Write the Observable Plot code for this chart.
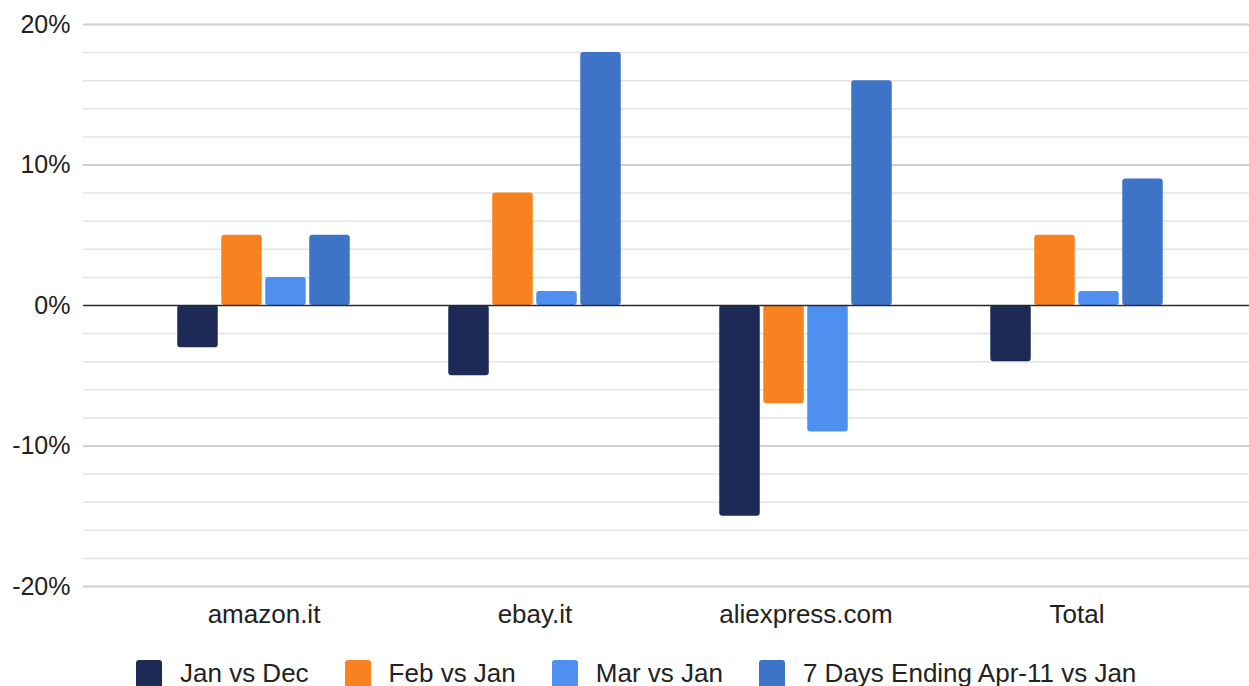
<!DOCTYPE html>
<html>
<head>
<meta charset="utf-8">
<script src="https://cdn.jsdelivr.net/npm/d3@7"></script>
<script src="https://cdn.jsdelivr.net/npm/@observablehq/plot@0.6"></script>
<style>
  html, body { margin: 0; padding: 0; background: #fff; }
  body { width: 1249px; height: 686px; overflow: hidden; position: relative; font-family: "Liberation Sans", Arial, sans-serif; }
  #chart svg { display: block; }
  #legend { position: absolute; left: 136px; top: 658px; display: flex; align-items: center; font-size: 26px; color: #222; white-space: nowrap; }
  #legend .item { display: flex; align-items: center; margin-right: 36px; }
  #legend .sw { width: 26px; height: 28px; border-radius: 3px; margin-right: 18px; }
</style>
</head>
<body>
<div id="chart"></div>
<div id="legend"></div>
<script>
const categories = ["amazon.it", "ebay.it", "aliexpress.com", "Total"];
const series = ["Jan vs Dec", "Feb vs Jan", "Mar vs Jan", "7 Days Ending Apr-11 vs Jan"];
const colors = ["#1c2a55", "#f7821f", "#4e8ff0", "#3e74c7"];
const janVsDec = [-3, -5, -15, -4];
const febVsJan = [5, 8, -7, 5];
const marVsJan = [2, 1, -9, 1];
const days7VsJan = [5, 18, 16, 9];
const yTicks = [-20, -10, 0, 10, 20];
const gridLines = [-20, -18, -16, -14, -12, -10, -8, -6, -4, -2, 2, 4, 6, 8, 10, 12, 14, 16, 18, 20];

const values = [janVsDec, febVsJan, marVsJan, days7VsJan];
const xRange = [127, 1213];
const bandwidth = (xRange[1] - xRange[0]) / categories.length;
const barW = 41, step = 44;
const inset = (bandwidth - barW) / 2;

const barMarks = series.map((s, i) => {
  const data = categories.map((c, j) => ({category: c, series: s, value: values[i][j]}));
  return Plot.barY(data, {
    x: "category", y: "value", fill: colors[i],
    dx: (i - 1.5) * step, insetLeft: inset, insetRight: inset, rx: 3
  });
});

const chart = Plot.plot({
  width: 1249,
  height: 650,
  marginLeft: 83,
  marginRight: 0,
  marginTop: 24,
  marginBottom: 64,
  style: {fontFamily: "'Liberation Sans', Arial, sans-serif", color: "#222", background: "#fff", overflow: "visible"},
  x: {domain: categories, range: xRange, padding: 0},
  y: {domain: [-20, 20]},
  marks: [
    Plot.ruleY(gridLines, {stroke: d => d % 10 === 0 ? "#cfcfcf" : "#e3e3e3", strokeWidth: d => d % 10 === 0 ? 2 : 1.5}),
    ...barMarks,
    Plot.ruleY([0], {stroke: "#2a2a2a", strokeWidth: 1.7}),
    Plot.axisY({ticks: yTicks, tickFormat: d => d + "%", tickSize: 0, tickPadding: 13, fontSize: 25, label: null}),
    Plot.axisX({tickSize: 0, tickPadding: 18, fontSize: 26, label: null})
  ]
});
document.getElementById("chart").appendChild(chart);

const legend = document.getElementById("legend");
series.forEach((s, i) => {
  const item = document.createElement("div");
  item.className = "item";
  const sw = document.createElement("div");
  sw.className = "sw";
  sw.style.background = colors[i];
  const t = document.createElement("span");
  t.textContent = s;
  item.appendChild(sw);
  item.appendChild(t);
  legend.appendChild(item);
});
</script>
</body>
</html>
